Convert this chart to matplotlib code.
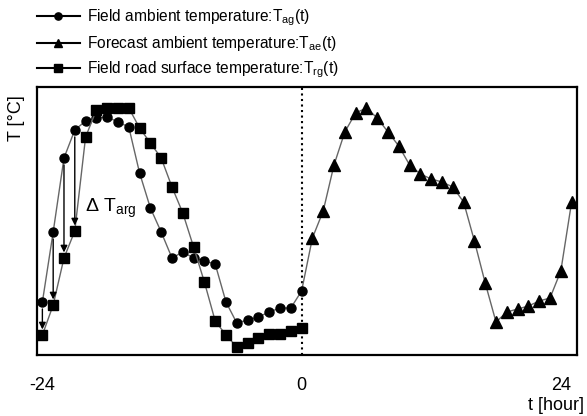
import numpy as np
import matplotlib
matplotlib.use("Agg")
import matplotlib.pyplot as plt

plt.rcParams['font.family'] = ['Liberation Sans', 'DejaVu Sans']
plt.rcParams['axes.unicode_minus'] = False

# hourly time axis [hour]
t_field = np.arange(-24, 1)
t_fore = np.arange(0, 26)

# field ambient temperature T_ag(t)
T_ag = [5.3, 12.3, 19.7, 22.5, 23.4, 23.7, 23.8, 23.3, 22.8, 18.2, 14.7, 12.3, 9.7,
        10.3, 9.7, 9.4, 9.1, 5.3, 3.2, 3.5, 3.8, 4.3, 4.7, 4.7, 6.4]
# field road surface temperature T_rg(t)
T_rg = [2.0, 5.0, 9.7, 12.4, 21.8, 24.5, 24.7, 24.7, 24.7, 22.7, 21.2, 19.7, 16.8,
        14.2, 10.8, 7.3, 3.4, 2.0, 0.8, 1.2, 1.7, 2.1, 2.1, 2.4, 2.7]
# forecast ambient temperature T_ae(t)
T_ae = [6.4, 11.7, 14.4, 19.0, 22.3, 24.2, 24.7, 23.7, 22.3, 20.9, 19.0, 18.1, 17.6,
        17.3, 16.8, 15.3, 11.4, 7.2, 3.3, 4.3, 4.6, 4.9, 5.4, 5.7, 8.4, 15.3]

n_arrows = 4

fig = plt.figure(figsize=(5.87, 4.16), dpi=100)
ax = fig.add_axes([0.063, 0.1466, 0.92, 0.6443])

lc = '0.4'
ax.plot(t_field, T_ag, '-', color=lc, lw=1, marker='o', ms=6.5, mfc='k', mec='k',
        label='Field ambient temperature:T$_\\mathregular{ag}$(t)', zorder=3)
ax.plot(t_fore, T_ae, '-', color=lc, lw=1, marker='^', ms=8, mfc='k', mec='k',
        markevery=slice(1, None),
        label='Forecast ambient temperature:T$_\\mathregular{ae}$(t)', zorder=2)
ax.plot(t_field, T_rg, '-', color=lc, lw=1, marker='s', ms=7, mfc='k', mec='k',
        label='Field road surface temperature:T$_\\mathregular{rg}$(t)', zorder=3)

ax.axvline(0, color='k', ls=':', lw=1.5, zorder=1)

for i in range(n_arrows):
    ax.annotate('', xy=(t_field[i], T_rg[i]), xytext=(t_field[i], T_ag[i]),
                arrowprops=dict(arrowstyle='-|>', color='k', lw=1,
                                mutation_scale=10, shrinkA=5, shrinkB=4),
                zorder=4)
ax.text(-20.1, 14.7, '\u0394 T$_\\mathregular{arg}$', fontsize=14, va='center')

ax.set_xlim(-24.5, 25.5)
ax.set_ylim(0, 26.8)
ax.set_yticks([])
ax.set_xticks([-24, 0, 24])
ax.tick_params(axis='x', length=0, pad=16, labelsize=13)
for s in ax.spines.values():
    s.set_linewidth(1.6)

fig.text(0.028, 0.715, 'T [\u00b0C]', rotation=90, fontsize=13, ha='center', va='center')
fig.text(0.995, 0.005, 't [hour]', fontsize=13, ha='right', va='bottom')

handles, labels = ax.get_legend_handles_labels()
leg = fig.legend(handles, labels, loc='upper left', bbox_to_anchor=(0.052, 0.997),
                 frameon=False, fontsize=11.2, handlelength=2.75, handletextpad=0.45,
                 labelspacing=0.4, borderaxespad=0, markerscale=0.8)
for ln in leg.get_lines():
    ln.set_color('k')
    ln.set_linewidth(1.5)

fig.savefig('out.png', dpi=100)
